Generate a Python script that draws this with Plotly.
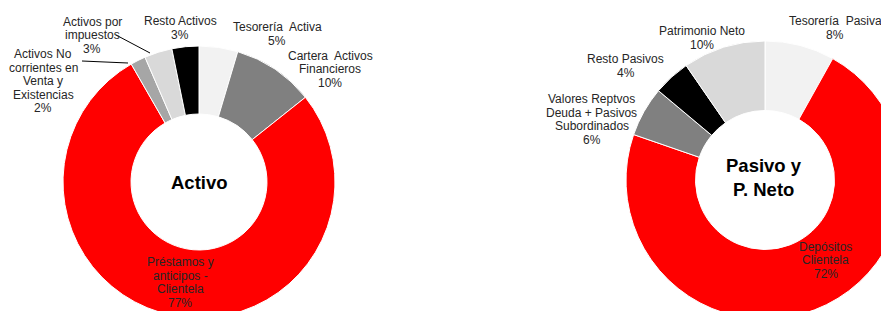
import plotly.graph_objects as go

# ---- data ----
activo_labels = ["Tesorería  Activa", "Cartera  Activos<br>Financieros", "Préstamos y<br>anticipos -<br>Clientela",
                 "Activos No<br>corrientes en<br>Venta y<br>Existencias", "Activos por<br>impuestos", "Resto Activos"]
activo_values = [4.6, 9.7, 77.4, 1.8, 3.3, 3.2]
activo_colors = ["#F2F2F2", "#808080", "#FF0000", "#A6A6A6", "#D9D9D9", "#000000"]

pasivo_labels = ["Tesorería  Pasiva", "Depósitos<br>Clientela", "Valores Reptvos<br>Deuda + Pasivos<br>Subordinados",
                 "Resto Pasivos", "Patrimonio Neto"]
pasivo_values = [8.1, 72.2, 5.8, 4.3, 9.6]
pasivo_colors = ["#F2F2F2", "#FF0000", "#808080", "#000000", "#D9D9D9"]

# ---- layout constants (pixels in the window) ----
W, H = 900, 320
OFF = 8  # page body margin
FONT = "Liberation Sans, Arial, sans-serif"
TXT = "#262626"
LINE = 13.6

def px(x):
    return (x - OFF) / W

def py(y):
    return 1 - (y - OFF) / H

fig = go.Figure()

# left donut: center (199,182), r 136
fig.add_trace(go.Pie(
    labels=activo_labels, values=activo_values, sort=False, direction="clockwise", rotation=0,
    hole=0.5, marker=dict(colors=activo_colors, line=dict(color="white", width=1)),
    textinfo="none", hoverinfo="label+percent", showlegend=False,
    domain=dict(x=[px(199 - 136), px(199 + 136)], y=[py(182 + 136), py(182 - 136)]),
))
# right donut: center (765,180), r 139
fig.add_trace(go.Pie(
    labels=pasivo_labels, values=pasivo_values, sort=False, direction="clockwise", rotation=0,
    hole=0.5, marker=dict(colors=pasivo_colors, line=dict(color="white", width=1)),
    textinfo="none", hoverinfo="label+percent", showlegend=False,
    domain=dict(x=[px(765 - 139), px(765 + 139)], y=[py(180 + 139), py(180 - 139)]),
))

def pct(vals, i):
    return f"{vals[i] / sum(vals) * 100:.0f}%"

# label positions: (x center, y of first line center), px
activo_pos = [(277, 27), (330, 55.5), (180, 262), (43, 54), (92, 21.5), (180, 21)]
pasivo_pos = [(835, 21), (825.5, 246.5), (591.5, 99), (625.5, 59), (702, 31)]

annotations = []

def add_block(lab, pct_txt, x, y0):
    lines = lab.split("<br>") + [pct_txt]
    for k, ln in enumerate(lines):
        annotations.append(dict(x=px(x), y=py(y0 + k * LINE), xref="paper", yref="paper", showarrow=False,
                                text=ln, xanchor="center", yanchor="middle",
                                font=dict(family=FONT, size=12, color=TXT)))

for i, lab in enumerate(activo_labels):
    add_block(lab, pct(activo_values, i), *activo_pos[i])
for i, lab in enumerate(pasivo_labels):
    add_block(lab, pct(pasivo_values, i), *pasivo_pos[i])

annotations.append(dict(x=px(199), y=py(182), xref="paper", yref="paper", showarrow=False,
                        xanchor="center", yanchor="middle",
                        text="<b>Activo</b>", font=dict(family=FONT, size=18.5, color="black")))
annotations.append(dict(x=px(763.5), y=py(165), xref="paper", yref="paper", showarrow=False,
                        xanchor="center", yanchor="middle",
                        text="<b>Pasivo y</b>", font=dict(family=FONT, size=18.5, color="black")))
annotations.append(dict(x=px(763.5), y=py(189), xref="paper", yref="paper", showarrow=False,
                        xanchor="center", yanchor="middle",
                        text="<b>P. Neto</b>", font=dict(family=FONT, size=18.5, color="black")))

shapes = [
    dict(type="line", xref="paper", yref="paper", x0=px(116), y0=py(35), x1=px(150), y1=py(53),
         line=dict(color="black", width=1)),
    dict(type="line", xref="paper", yref="paper", x0=px(82), y0=py(61), x1=px(128), y1=py(63),
         line=dict(color="black", width=1)),
]

fig.update_layout(width=W, height=H, margin=dict(l=0, r=0, t=0, b=0),
                  paper_bgcolor="white", plot_bgcolor="white",
                  annotations=annotations, shapes=shapes)

fig.write_html("out.html")
